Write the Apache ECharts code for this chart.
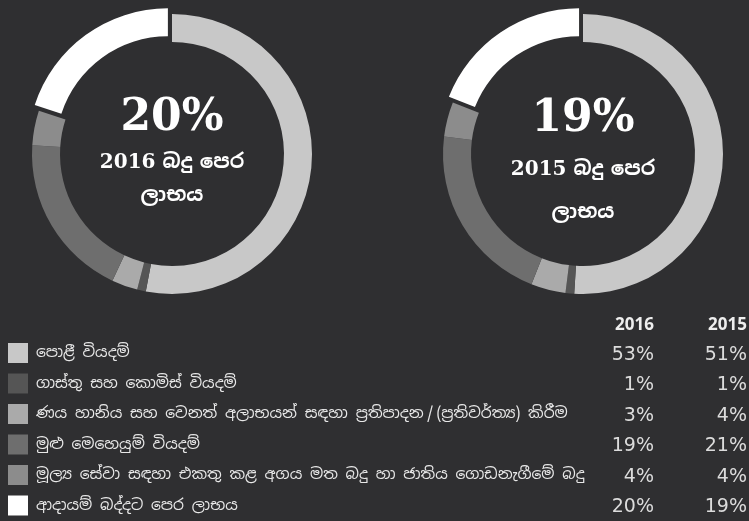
<!doctype html>
<html>
<head>
<meta charset="utf-8">
<title></title>
<script src="https://cdn.jsdelivr.net/npm/echarts@6/dist/echarts.min.js"></script>
<style>
html, body { margin: 0; padding: 0; background: #2f2f31; }
#main { width: 749px; height: 521px; }
</style>
</head>
<body>
<div id="main"></div>
<script>
var categories = [
    'පොළී වියදම්',
    'ගාස්තු සහ කොමිස් වියදම්',
    'ණය හානිය සහ වෙනත් අලාභයන් සඳහා ප්‍රතිපාදන\u2009/\u2009(ප්‍රතිවර්ත්‍ය) කිරීම',
    'මුළු මෙහෙයුම් වියදම්',
    'මූල්‍ය සේවා සඳහා එකතු කළ අගය මත බදු හා ජාතිය ගොඩනැගීමේ බදු',
    'ආදායම් බද්දට පෙර ලාභය'
];
var years = ['2016', '2015'];
var values2016 = [53, 1, 3, 19, 4, 20];
var values2015 = [51, 1, 4, 21, 4, 19];
var centerLabel = 'බදු පෙර\nලාභය';

var sliceColors = ['#c8c8c8', '#555555', '#aaaaaa', '#6e6e6e', '#8c8c8c', '#ffffff'];
var sinhalaFont = '"Noto Sans Sinhala", "Noto Serif Sinhala", "Iskoola Pota", "DejaVu Sans", sans-serif';

var chart = echarts.init(document.getElementById('main'));

function makePie(vals, cx) {
    return {
        type: 'pie',
        radius: [112, 140],
        center: [cx, 154],
        startAngle: 90,
        clockwise: true,
        selectedMode: 'single',
        selectedOffset: 7,
        label: { show: false },
        labelLine: { show: false },
        emphasis: { disabled: true },
        data: vals.map(function (v, i) {
            return {
                name: categories[i],
                value: v,
                selected: i == vals.length - 1,
                itemStyle: { color: sliceColors[i], borderWidth: 0 },
                select: { itemStyle: { color: sliceColors[i], borderWidth: 0 } }
            };
        })
    };
}

var graphics = [];
// texts in the middle of each ring
[[values2016, 172, years[0], [119, 163, 195]], [values2015, 583, years[1], [120, 170, 212]]].forEach(function (d) {
    var lines = centerLabel.split('\n');
    graphics.push({
        type: 'text', x: d[1], y: d[3][0],
        style: { text: d[0][d[0].length - 1] + '%', fill: '#fff', font: 'bold 44px "DejaVu Serif", serif', textAlign: 'center', textVerticalAlign: 'middle' }
    });
    graphics.push({
        type: 'text', x: d[1], y: d[3][1],
        style: { text: d[2] + ' ' + lines[0], fill: '#fff', font: 'bold 20px "DejaVu Serif", ' + sinhalaFont, textAlign: 'center', textVerticalAlign: 'middle' }
    });
    graphics.push({
        type: 'text', x: d[1], y: d[3][2],
        style: { text: lines[1], fill: '#fff', font: 'bold 20px ' + sinhalaFont, textAlign: 'center', textVerticalAlign: 'middle' }
    });
});

// table under the rings
var colX = [654, 747];
years.forEach(function (y, j) {
    graphics.push({
        type: 'text', x: colX[j], y: 325,
        style: { text: y, fill: '#eee', font: 'bold 17px "Open Sans", sans-serif', textAlign: 'right', textVerticalAlign: 'middle' }
    });
});
categories.forEach(function (c, i) {
    var cy = 353 + i * 30.5;
    graphics.push({ type: 'rect', shape: { x: 8, y: cy - 10, width: 20, height: 20 }, style: { fill: sliceColors[i] } });
    graphics.push({
        type: 'text', x: 36, y: cy,
        style: { text: c, fill: '#e8e8e8', font: '15.5px ' + sinhalaFont, textVerticalAlign: 'middle' }
    });
    [values2016, values2015].forEach(function (vals, j) {
        graphics.push({
            type: 'text', x: colX[j], y: cy + 2,
            style: { text: vals[i] + '%', fill: '#dcdcdc', font: '19px "DejaVu Sans", sans-serif', textAlign: 'right', textVerticalAlign: 'middle' }
        });
    });
});

chart.setOption({
    backgroundColor: '#2f2f31',
    animation: false,
    series: [makePie(values2016, 172), makePie(values2015, 583)],
    graphic: graphics
});
</script>
</body>
</html>
